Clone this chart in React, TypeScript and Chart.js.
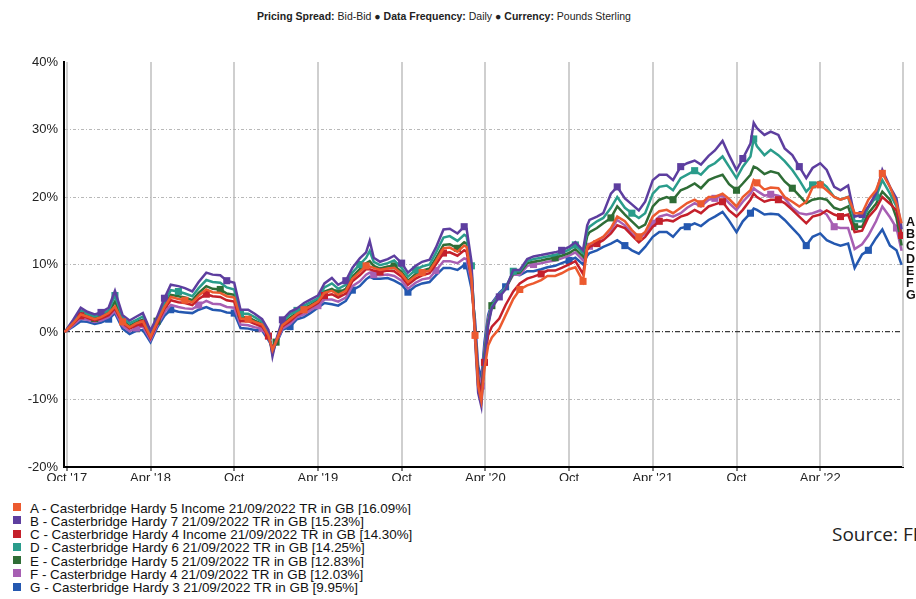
import React, { useEffect, useRef } from "react";
import { Chart, registerables } from "chart.js";

Chart.register(...registerables);

const DATES = [
  "2017-09-26", "2017-10-01", "2017-10-15", "2017-11-01", "2017-11-15", "2017-12-01", "2017-12-15", "2018-01-01", "2018-01-15", "2018-02-01",
  "2018-02-15", "2018-03-01", "2018-03-15", "2018-04-01", "2018-04-15", "2018-05-01", "2018-05-15", "2018-06-01", "2018-06-15", "2018-07-01",
  "2018-07-15", "2018-08-01", "2018-08-15", "2018-09-01", "2018-09-15", "2018-10-01", "2018-10-15", "2018-11-01", "2018-11-15", "2018-12-01",
  "2018-12-15", "2018-12-24", "2019-01-01", "2019-01-15", "2019-02-01", "2019-02-15", "2019-03-01", "2019-03-15", "2019-04-01", "2019-04-15",
  "2019-05-01", "2019-05-15", "2019-06-01", "2019-06-15", "2019-07-01", "2019-07-15", "2019-07-23", "2019-08-01", "2019-08-15", "2019-09-01",
  "2019-09-15", "2019-10-01", "2019-10-15", "2019-11-01", "2019-11-15", "2019-12-01", "2019-12-15", "2020-01-01", "2020-01-15", "2020-02-01",
  "2020-02-15", "2020-02-20", "2020-03-01", "2020-03-09", "2020-03-16", "2020-03-23", "2020-03-30", "2020-04-07", "2020-04-15", "2020-05-01",
  "2020-05-15", "2020-06-01", "2020-06-15", "2020-07-01", "2020-07-15", "2020-08-01", "2020-08-15", "2020-09-01", "2020-09-15", "2020-10-01",
  "2020-10-15", "2020-11-01", "2020-11-10", "2020-11-15", "2020-12-01", "2020-12-15", "2021-01-01", "2021-01-15", "2021-02-01", "2021-02-15",
  "2021-03-01", "2021-03-15", "2021-04-01", "2021-04-15", "2021-05-01", "2021-05-15", "2021-06-01", "2021-06-15", "2021-07-01", "2021-07-15",
  "2021-08-01", "2021-08-15", "2021-09-01", "2021-09-15", "2021-10-01", "2021-10-15", "2021-11-01", "2021-11-08", "2021-11-15", "2021-12-01",
  "2021-12-15", "2022-01-01", "2022-01-15", "2022-02-01", "2022-02-15", "2022-03-01", "2022-03-15", "2022-04-01", "2022-04-15", "2022-05-01",
  "2022-05-15", "2022-06-01", "2022-06-15", "2022-07-01", "2022-07-15", "2022-08-01", "2022-08-15", "2022-09-01", "2022-09-15", "2022-09-26",
];

const SERIES_A = [
  0, 0.3, 1.3, 2.6, 2.3, 1.9, 2.2, 2.8, 3.8, 1.5,
  0.7, 1.3, 1.6, -0.7, 1.4, 3.7, 5.2, 4.9, 4.7, 4.4,
  5.4, 6.3, 5.9, 5.8, 5.3, 5.1, 2.0, 1.9, 1.5, 1.1,
  -0.5, -2.7, -1.4, 1.0, 1.9, 2.7, 3.3, 3.8, 4.5, 5.8,
  6.1, 5.5, 6.1, 7.9, 8.9, 9.8, 9.7, 9.5, 9.2, 9.4,
  9.5, 8.6, 7.4, 8.3, 8.8, 9.1, 10.5, 12.4, 12.5, 11.9,
  12.8, 12.6, 8.0, -0.5, -8.0, -10.2, -5.5, -2.0, -0.8, 0.5,
  2.5, 4.9, 6.3, 6.9, 7.2, 7.7, 8.3, 8.3, 8.7, 9.3,
  9.6, 7.5, 12.6, 13.0, 13.6, 14.1, 15.4, 17.1, 16.4, 15.1,
  14.1, 14.8, 17.1, 17.9, 18.1, 17.6, 18.4, 19.1, 19.6, 19.0,
  20.0, 20.0, 20.5, 19.7, 18.6, 20.0, 21.0, 22.5, 22.1, 21.1,
  21.4, 21.3, 20.0, 19.3, 18.6, 19.3, 21.4, 21.8, 21.0, 20.0,
  19.6, 20.0, 17.6, 17.6, 19.6, 21.0, 23.5, 21.5, 19.0, 16.09,
];

const SERIES_B = [
  0, 0.4, 1.8, 3.6, 3.0, 2.6, 2.9, 3.6, 6.1, 2.5,
  1.7, 2.3, 2.8, 0.2, 2.2, 5.0, 7.0, 6.8, 6.5, 6.0,
  7.4, 8.8, 8.5, 8.4, 7.6, 7.3, 3.3, 3.3, 2.7, 1.9,
  0.3, -3.6, -1.2, 1.8, 3.0, 3.5, 4.3, 4.8, 5.4, 7.2,
  8.0, 7.0, 7.6, 9.5, 10.9, 11.8, 13.5, 11.0, 10.4, 10.8,
  11.3, 10.2, 8.8, 9.8, 10.4, 10.7, 12.5, 15.2, 15.3, 14.6,
  15.6, 15.3, 10.5, -1.0, -9.0, -11.0, -4.5, 1.0, 3.6, 5.2,
  6.3, 9.2, 9.2, 10.8, 11.2, 11.4, 11.6, 11.8, 12.1, 12.6,
  13.3, 12.1, 15.8, 16.6, 17.1, 17.6, 20.5, 21.5, 19.8, 18.9,
  18.0, 19.3, 22.5, 23.3, 23.3, 22.5, 24.5, 25.0, 25.4, 24.8,
  26.1, 26.9, 28.3, 26.2, 24.0, 25.7, 27.9, 31.0, 30.2, 29.2,
  29.7, 29.2, 27.2, 26.2, 24.5, 22.8, 24.3, 25.0, 24.0, 21.5,
  21.0, 21.7, 17.1, 17.4, 18.6, 20.5, 24.0, 21.5, 19.8, 15.23,
];

const SERIES_C = [
  0, 0.3, 1.2, 2.4, 2.1, 1.7, 2.0, 2.5, 3.5, 1.3,
  0.5, 1.0, 1.3, -0.9, 1.2, 3.4, 4.7, 4.4, 4.3, 4.0,
  4.9, 5.6, 5.3, 5.2, 4.7, 4.5, 1.6, 1.6, 1.2, 0.8,
  -0.6, -2.6, -1.5, 0.8, 1.6, 2.5, 3.0, 3.6, 4.3, 5.4,
  5.6, 5.1, 5.7, 7.5, 8.4, 9.3, 9.3, 9.1, 8.9, 9.1,
  9.0, 8.2, 7.0, 7.9, 8.4, 8.7, 10.0, 11.7, 11.8, 11.3,
  12.1, 11.9, 8.0, 0.2, -7.2, -9.2, -4.5, -0.5, 0.8, 2.0,
  4.0, 6.0, 7.2, 7.9, 8.2, 8.6, 9.1, 9.1, 9.5, 10.0,
  10.5, 8.6, 12.2, 12.6, 13.1, 13.6, 14.6, 15.8, 15.4, 14.3,
  13.3, 14.1, 15.6, 16.4, 16.6, 16.4, 17.1, 17.4, 18.1, 17.6,
  18.6, 18.9, 19.3, 18.0, 17.1, 18.1, 19.6, 20.5, 20.0, 19.3,
  19.6, 19.6, 19.1, 18.1, 17.1, 16.1, 17.1, 17.4, 18.0, 17.4,
  17.1, 17.4, 14.8, 15.0, 17.0, 18.3, 20.0, 19.0, 18.0, 14.3,
];

const SERIES_D = [
  0, 0.4, 1.6, 3.2, 2.7, 2.3, 2.6, 3.2, 5.4, 2.1,
  1.3, 1.8, 2.3, -0.2, 1.9, 4.4, 6.2, 6.0, 5.7, 5.3,
  6.5, 7.7, 7.4, 7.3, 6.6, 6.3, 2.7, 2.7, 2.2, 1.5,
  0.0, -3.2, -1.5, 1.5, 2.6, 3.2, 3.9, 4.4, 5.0, 6.6,
  7.2, 6.4, 7.0, 8.8, 10.0, 11.0, 12.0, 10.4, 9.9, 10.2,
  10.6, 9.5, 8.2, 9.2, 9.7, 10.0, 11.7, 14.0, 14.2, 13.5,
  14.4, 14.2, 9.8, 0.0, -8.0, -10.0, -4.0, 1.2, 3.8, 5.5,
  6.5, 9.0, 9.0, 10.5, 10.8, 11.0, 11.2, 11.4, 11.7, 12.2,
  12.9, 11.7, 15.0, 15.6, 16.4, 16.9, 18.4, 20.0, 18.4, 17.6,
  16.9, 17.6, 20.5, 21.5, 21.7, 21.0, 22.8, 23.3, 23.9, 23.3,
  24.5, 25.0, 26.0, 24.5, 22.8, 24.5, 26.0, 28.6, 27.5, 26.2,
  27.0, 26.2, 25.3, 24.0, 22.5, 20.8, 21.8, 22.3, 21.5, 20.0,
  19.6, 20.0, 16.4, 16.4, 18.4, 20.0, 22.5, 20.5, 18.6, 14.25,
];

const SERIES_E = [
  0, 0.3, 1.4, 2.8, 2.4, 2.0, 2.3, 2.9, 4.5, 1.7,
  0.9, 1.5, 1.8, -0.5, 1.6, 4.0, 5.5, 5.3, 5.1, 4.7,
  5.8, 6.8, 6.4, 6.3, 5.7, 5.5, 2.2, 2.2, 1.7, 1.2,
  -0.3, -2.9, -1.5, 1.2, 2.1, 2.9, 3.5, 4.0, 4.7, 6.0,
  6.4, 5.8, 6.4, 8.2, 9.3, 10.2, 10.5, 9.8, 9.4, 9.7,
  9.8, 8.9, 7.6, 8.6, 9.1, 9.4, 10.9, 12.9, 13.0, 12.4,
  13.3, 13.1, 9.0, 0.5, -7.0, -9.0, -3.3, 1.5, 3.9, 5.5,
  6.4, 8.7, 8.8, 10.2, 10.4, 10.6, 10.8, 11.0, 11.3, 11.7,
  12.3, 11.2, 14.2, 14.8, 15.4, 16.1, 16.9, 18.6, 17.4, 16.4,
  15.4, 15.9, 18.6, 19.6, 20.0, 19.6, 21.0, 21.4, 22.0, 21.3,
  22.5, 22.9, 23.3, 21.9, 21.0, 22.0, 23.3, 24.5, 24.3, 23.4,
  23.8, 23.5, 22.3, 21.3, 20.2, 19.1, 19.6, 19.8, 19.6, 18.4,
  18.1, 18.6, 15.6, 15.6, 17.6, 19.0, 20.8, 19.6, 16.9, 12.83,
];

const SERIES_F = [
  0, 0.2, 1.0, 2.0, 1.8, 1.5, 1.7, 2.2, 3.1, 0.9,
  0.1, 0.6, 0.8, -1.2, 0.9, 2.9, 4.0, 3.7, 3.5, 3.4,
  4.0, 4.6, 4.2, 4.1, 3.7, 3.6, 1.1, 1.0, 0.7, 0.5,
  -0.9, -2.4, -1.7, 0.5, 1.2, 2.2, 2.6, 3.2, 3.9, 4.8,
  4.8, 4.5, 5.1, 6.8, 7.5, 8.5, 8.8, 8.5, 8.4, 8.5,
  8.3, 7.6, 6.4, 7.3, 7.8, 8.0, 9.1, 10.5, 10.5, 10.2,
  10.9, 10.8, 7.5, 1.0, -6.2, -8.0, -2.5, 2.0, 4.1, 5.6,
  6.5, 8.5, 8.5, 9.8, 10.0, 10.2, 10.4, 10.6, 10.9, 11.3,
  11.8, 10.6, 12.3, 12.7, 13.4, 14.1, 15.1, 16.6, 15.8, 14.6,
  13.8, 14.6, 16.1, 17.1, 17.4, 17.1, 17.6, 18.4, 19.1, 18.6,
  19.6, 19.8, 20.2, 19.1, 18.1, 19.3, 20.5, 21.3, 20.9, 20.2,
  20.4, 20.2, 19.8, 18.4, 17.6, 17.4, 17.6, 18.0, 17.4, 15.6,
  15.4, 15.4, 12.3, 13.0, 14.3, 16.4, 18.6, 17.0, 15.4, 12.03,
];

const SERIES_G = [
  0, 0.2, 0.8, 1.6, 1.5, 1.2, 1.4, 1.9, 2.8, 0.5,
  -0.3, 0.2, 0.3, -1.5, 0.6, 2.4, 3.3, 3.0, 2.9, 2.8,
  3.3, 3.7, 3.3, 3.2, 2.9, 2.8, 0.6, 0.5, 0.3, 0.2,
  -1.2, -2.2, -1.8, 0.3, 0.8, 1.9, 2.2, 2.8, 3.6, 4.3,
  4.1, 3.9, 4.6, 6.2, 6.8, 7.8, 8.2, 7.9, 7.9, 8.0,
  7.6, 7.0, 5.9, 6.8, 7.2, 7.4, 8.4, 9.5, 9.5, 9.2,
  9.9, 9.8, 6.5, 1.8, -5.0, -7.0, -1.5, 2.5, 4.3, 5.8,
  6.7, 8.6, 8.4, 9.0, 9.0, 9.3, 9.6, 9.8, 10.2, 10.6,
  11.0, 10.0, 11.3, 11.7, 12.1, 12.6, 13.1, 13.6, 12.8, 12.1,
  11.6, 12.6, 14.1, 14.8, 14.8, 14.1, 15.4, 15.6, 16.1, 15.7,
  16.6, 17.1, 17.8, 16.5, 14.8, 16.4, 17.6, 18.3, 18.1, 17.4,
  17.5, 17.4, 16.6, 15.4, 14.3, 12.8, 14.1, 14.6, 13.6, 13.1,
  12.8, 13.1, 9.5, 11.5, 12.1, 13.9, 15.2, 12.8, 12.1, 9.95,
];

const SERIES_LETTERS = ["A", "B", "C", "D", "E", "F", "G"];
const SERIES_NAMES = [
  "A - Casterbridge Hardy 5 Income 21/09/2022 TR in GB [16.09%]",
  "B - Casterbridge Hardy 7 21/09/2022 TR in GB [15.23%]",
  "C - Casterbridge Hardy 4 Income 21/09/2022 TR in GB [14.30%]",
  "D - Casterbridge Hardy 6 21/09/2022 TR in GB [14.25%]",
  "E - Casterbridge Hardy 5 21/09/2022 TR in GB [12.83%]",
  "F - Casterbridge Hardy 4 21/09/2022 TR in GB [12.03%]",
  "G - Casterbridge Hardy 3 21/09/2022 TR in GB [9.95%]",
];
const SERIES_COLORS = ["#ec5a2f", "#5d3e9f", "#c4202b", "#2a9c8b", "#2f6d36", "#a75fb3", "#2458b0"];

const X_TICK_DATES = ["2017-10-01", "2018-04-01", "2018-10-01", "2019-04-01", "2019-10-01", "2020-04-01", "2020-10-01", "2021-04-01", "2021-10-01", "2022-04-01"];
const X_TICK_LABELS = ["Oct '17", "Apr '18", "Oct", "Apr '19", "Oct", "Apr '20", "Oct", "Apr '21", "Oct", "Apr '22"];
const X_START = "2017-09-25";
const X_END = "2022-09-29";
const Y_MIN = -20;
const Y_MAX = 40;
const Y_STEP = 10;

const HEADER_PARTS = [
  { text: "Pricing Spread:", bold: true },
  { text: " Bid-Bid \u25CF ", bold: false },
  { text: "Data Frequency:", bold: true },
  { text: " Daily \u25CF ", bold: false },
  { text: "Currency:", bold: true },
  { text: " Pounds Sterling", bold: false },
];
const SOURCE_TEXT = "Source: FE";

function toMonths(s: string): number {
  const [y, m, d] = s.split("-").map(Number);
  const dim = new Date(y, m, 0).getDate();
  return (y - 2017) * 12 + (m - 10) + (d - 1) / dim;
}

const FONT = '"Liberation Sans", Arial, Helvetica, sans-serif';

export default function App() {
  const canvasRef = useRef<HTMLCanvasElement | null>(null);

  useEffect(() => {
    const canvas = canvasRef.current;
    if (!canvas) return;
    const allSeries = [SERIES_A, SERIES_B, SERIES_C, SERIES_D, SERIES_E, SERIES_F, SERIES_G];
    const xs = DATES.map(toMonths);
    const tickVals = X_TICK_DATES.map(toMonths);
    const offsets = [0, 3, 6, 1, 4, 7, 2];

    const rightEdge = {
      id: "rightEdge",
      beforeDatasetsDraw(chart: any) {
        const { ctx, chartArea } = chart;
        ctx.save();
        ctx.strokeStyle = "#cfcfcf";
        ctx.lineWidth = 2;
        ctx.beginPath();
        ctx.moveTo(chartArea.right, chartArea.top);
        ctx.lineTo(chartArea.right, chartArea.bottom);
        ctx.stroke();
        ctx.restore();
      },
    };

    const chart = new Chart(canvas, {
      type: "line",
      data: {
        datasets: allSeries.map((vals, si) => ({
          label: SERIES_NAMES[si],
          data: vals.map((v, i) => ({ x: xs[i], y: v })),
          borderColor: SERIES_COLORS[si],
          backgroundColor: SERIES_COLORS[si],
          pointBackgroundColor: SERIES_COLORS[si],
          borderWidth: 2.5,
          tension: 0,
          pointStyle: "rect",
          pointBorderWidth: 0,
          pointRadius: (ctx: any) => (ctx.dataIndex > 2 && (ctx.dataIndex + offsets[si]) % 9 === 0 ? 5 : 0),
          pointHoverRadius: 0,
          fill: false,
        })),
      },
      options: {
        animation: false,
        responsive: false,
        devicePixelRatio: 1,
        layout: { padding: { left: 0, right: 13, top: 62, bottom: 0 } },
        plugins: { legend: { display: false }, tooltip: { enabled: false } },
        scales: {
          x: {
            type: "linear",
            min: toMonths(X_START),
            max: toMonths(X_END),
            afterBuildTicks: (axis: any) => {
              axis.ticks = tickVals.map((v) => ({ value: v }));
            },
            afterFit: (s: any) => {
              s.height = 14;
            },
            ticks: {
              autoSkip: false,
              maxRotation: 0,
              padding: 0,
              color: "#222",
              font: { family: FONT, size: 13 },
              callback: (v: any) => {
                const idx = tickVals.findIndex((t) => Math.abs(t - Number(v)) < 1e-6);
                return idx >= 0 ? X_TICK_LABELS[idx] : "";
              },
            },
            grid: { color: "#cfcfcf", lineWidth: 2, tickColor: "#000", tickLength: 4, tickWidth: 1 },
            border: { color: "#000", width: 2 },
          },
          y: {
            min: Y_MIN,
            max: Y_MAX,
            afterFit: (s: any) => {
              s.width = 64;
            },
            ticks: {
              stepSize: Y_STEP,
              padding: 6,
              color: "#222",
              font: { family: FONT, size: 13 },
              callback: (v: any) => `${v}%`,
            },
            grid: {
              drawTicks: false,
              color: (ctx: any) => {
                const v = ctx.tick ? ctx.tick.value : null;
                if (v === 0) return "#3a3a3a";
                if (v === Y_MAX || v === Y_MIN) return "rgba(0,0,0,0)";
                return "#b8b8b8";
              },
              lineWidth: (ctx: any) => (ctx.tick && ctx.tick.value === 0 ? 1.3 : 1),
            },
            border: {
              color: "#000",
              width: 2,
              dash: (ctx: any) => (ctx.tick ? (ctx.tick.value === 0 ? [5, 2, 1, 2] : [3, 2, 1, 2]) : []),
            },
          },
        },
      },
      plugins: [rightEdge],
    } as any);

    return () => chart.destroy();
  }, []);

  return (
    <div
      style={{
        position: "absolute",
        left: 0,
        top: 0,
        width: 916,
        height: 599,
        overflow: "hidden",
        background: "#fff",
        fontFamily: FONT,
      }}
    >
      <div
        style={{
          position: "absolute",
          left: 0,
          top: 10,
          width: 888,
          textAlign: "center",
          fontSize: 10.5,
          lineHeight: "12px",
          color: "#222",
          whiteSpace: "nowrap",
        }}
      >
        {HEADER_PARTS.map((p, i) => (
          <span key={i} style={{ fontWeight: p.bold ? "bold" : "normal" }}>
            {p.text}
          </span>
        ))}
      </div>
      <canvas ref={canvasRef} width={916} height={481} style={{ position: "absolute", left: 0, top: 0, width: 916, height: 481 }} />
      <div
        style={{
          position: "absolute",
          left: 906,
          top: 216,
          fontWeight: "bold",
          fontSize: 12.5,
          lineHeight: "12.2px",
          color: "#111",
        }}
      >
        {SERIES_LETTERS.map((l) => (
          <div key={l}>{l}</div>
        ))}
      </div>
      <div style={{ position: "absolute", left: 0, top: 502 }}>
        {SERIES_NAMES.map((name, i) => (
          <div key={i} style={{ position: "relative", height: 13.3, width: 440, overflow: "hidden" }}>
            <div
              style={{
                position: "absolute",
                left: 13,
                top: 1,
                width: 8,
                height: 8,
                background: SERIES_COLORS[i],
              }}
            />
            <div
              style={{
                position: "absolute",
                left: 30,
                top: -0.5,
                fontSize: 13.4,
                lineHeight: "13px",
                color: "#111",
                whiteSpace: "nowrap",
              }}
            >
              {name}
            </div>
          </div>
        ))}
      </div>
      <div
        style={{
          position: "absolute",
          left: 832,
          top: 521,
          fontSize: 19,
          fontFamily: '"Open Sans", "Noto Sans", sans-serif',
          color: "#222",
          whiteSpace: "nowrap",
        }}
      >
        {SOURCE_TEXT}
      </div>
    </div>
  );
}
